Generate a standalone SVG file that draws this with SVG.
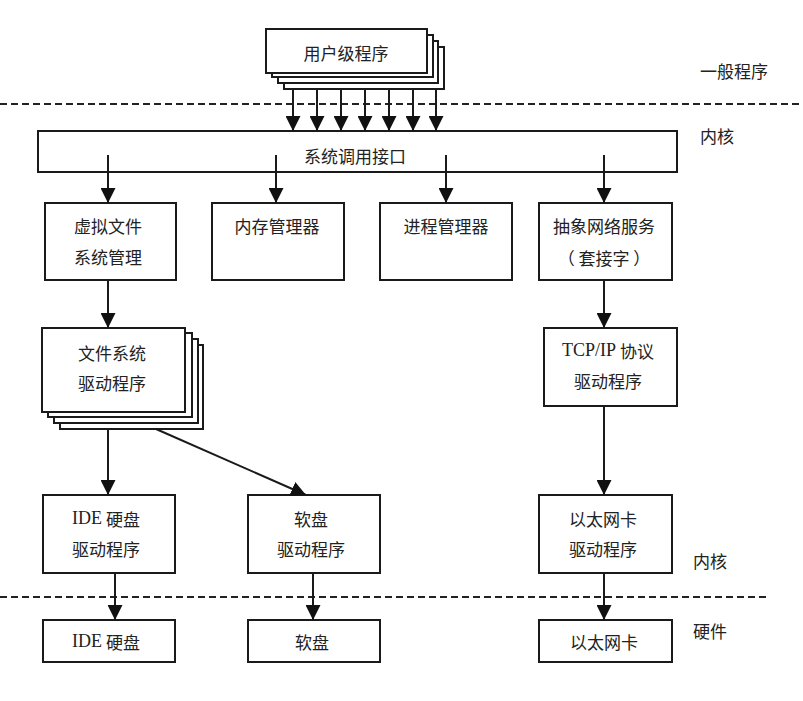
<svg xmlns="http://www.w3.org/2000/svg" width="803" height="701" viewBox="0 0 803 701">
<style>
.box{fill:#fff;stroke:#1a1a1a;stroke-width:2}
.t{font-family:"Noto Sans CJK SC","Liberation Sans",sans-serif;font-size:17px;fill:#222;text-anchor:middle;dominant-baseline:central}
.lbl{font-family:"Noto Sans CJK SC","Liberation Sans",sans-serif;font-size:17px;fill:#222;dominant-baseline:central}
.lat{font-family:"Liberation Serif","Noto Sans CJK SC",serif;font-size:18px}
.c{stroke:#1a1a1a;stroke-width:2;fill:none}
.dash{stroke:#222;stroke-width:2;stroke-dasharray:7 4;fill:none}
</style>
<defs>
<marker id="ah" markerWidth="15" markerHeight="15" refX="15" refY="7.5" orient="auto" markerUnits="userSpaceOnUse">
<path d="M0,0 L15,7.5 L0,15 Z" fill="#111"/>
</marker>
</defs>
<rect width="803" height="701" fill="#fff"/>

<g id="separators">
<line class="dash" x1="0" y1="104" x2="803" y2="104"/>
<line class="dash" x1="0" y1="597" x2="768" y2="597"/>
</g>

<g id="layer-labels">
<text class="lbl" x="700" y="70">一般程序</text>
<text class="lbl" x="700" y="135">内核</text>
<text class="lbl" x="693" y="560">内核</text>
<text class="lbl" x="693" y="630">硬件</text>
</g>

<g id="user-programs">
<rect class="box" x="284" y="47" width="160" height="42"/>
<rect class="box" x="278" y="41" width="160" height="42"/>
<rect class="box" x="272" y="35" width="161" height="42"/>
<rect class="box" x="266" y="29" width="161" height="44"/>
<text class="t" x="346" y="52">用户级程序</text>
</g>

<g id="syscall">
<rect class="box" x="38" y="131" width="639" height="41"/>
<text class="t" x="355" y="155">系统调用接口</text>
</g>

<g id="vfs">
<rect class="box" x="45" y="203" width="131" height="77"/>
<text class="t" x="108" y="225">虚拟文件</text>
<text class="t" x="108" y="256">系统管理</text>
</g>

<g id="mem">
<rect class="box" x="212" y="203" width="132" height="77"/>
<text class="t" x="277" y="225">内存管理器</text>
</g>

<g id="proc">
<rect class="box" x="380" y="203" width="132" height="77"/>
<text class="t" x="446" y="225">进程管理器</text>
</g>

<g id="net">
<rect class="box" x="539" y="203" width="133" height="77"/>
<text class="t" x="604" y="225">抽象网络服务</text>
<text class="t" x="604" y="257">（ 套接字 ）</text>
</g>

<g id="fsdrv">
<rect class="box" x="60" y="345" width="143" height="84"/>
<rect class="box" x="54" y="339" width="144" height="84"/>
<rect class="box" x="48" y="333" width="144" height="84"/>
<rect class="box" x="42" y="328" width="143" height="84"/>
<text class="t" x="112" y="352">文件系统</text>
<text class="t" x="112" y="382">驱动程序</text>
</g>

<g id="tcpip">
<rect class="box" x="544" y="328" width="133" height="78"/>
<text class="t" x="608" y="350"><tspan class="lat">TCP/IP</tspan>  协议</text>
<text class="t" x="608" y="380">驱动程序</text>
</g>

<g id="idedrv">
<rect class="box" x="43" y="495" width="132" height="78"/>
<text class="t" x="106" y="518"><tspan class="lat">IDE</tspan>  硬盘</text>
<text class="t" x="106" y="548">驱动程序</text>
</g>

<g id="fddrv">
<rect class="box" x="248" y="495" width="132" height="78"/>
<text class="t" x="311" y="518">软盘</text>
<text class="t" x="311" y="548">驱动程序</text>
</g>

<g id="ethdrv">
<rect class="box" x="539" y="495" width="133" height="78"/>
<text class="t" x="603" y="518">以太网卡</text>
<text class="t" x="603" y="548">驱动程序</text>
</g>

<g id="ide">
<rect class="box" x="43" y="620" width="132" height="42"/>
<text class="t" x="106" y="641"><tspan class="lat">IDE</tspan>  硬盘</text>
</g>

<g id="fd">
<rect class="box" x="248" y="620" width="132" height="42"/>
<text class="t" x="312" y="641">软盘</text>
</g>

<g id="eth">
<rect class="box" x="539" y="620" width="133" height="42"/>
<text class="t" x="604" y="641">以太网卡</text>
</g>

<g id="connectors">
<line class="c" x1="293" y1="89" x2="293" y2="131" marker-end="url(#ah)"/>
<line class="c" x1="317" y1="89" x2="317" y2="131" marker-end="url(#ah)"/>
<line class="c" x1="341" y1="89" x2="341" y2="131" marker-end="url(#ah)"/>
<line class="c" x1="365" y1="89" x2="365" y2="131" marker-end="url(#ah)"/>
<line class="c" x1="389" y1="89" x2="389" y2="131" marker-end="url(#ah)"/>
<line class="c" x1="413" y1="89" x2="413" y2="131" marker-end="url(#ah)"/>
<line class="c" x1="436" y1="89" x2="436" y2="131" marker-end="url(#ah)"/>
<line class="c" x1="108" y1="155" x2="108" y2="203" marker-end="url(#ah)"/>
<line class="c" x1="276" y1="155" x2="276" y2="203" marker-end="url(#ah)"/>
<line class="c" x1="446" y1="155" x2="446" y2="203" marker-end="url(#ah)"/>
<line class="c" x1="604" y1="155" x2="604" y2="203" marker-end="url(#ah)"/>
<line class="c" x1="108" y1="280" x2="108" y2="328" marker-end="url(#ah)"/>
<line class="c" x1="604" y1="280" x2="604" y2="328" marker-end="url(#ah)"/>
<line class="c" x1="108" y1="429" x2="108" y2="495" marker-end="url(#ah)"/>
<line class="c" x1="156" y1="429" x2="306" y2="495" marker-end="url(#ah)"/>
<line class="c" x1="604" y1="406" x2="604" y2="495" marker-end="url(#ah)"/>
<line class="c" x1="115" y1="573" x2="115" y2="620" marker-end="url(#ah)"/>
<line class="c" x1="313" y1="573" x2="313" y2="620" marker-end="url(#ah)"/>
<line class="c" x1="604" y1="573" x2="604" y2="620" marker-end="url(#ah)"/>
</g>
</svg>
